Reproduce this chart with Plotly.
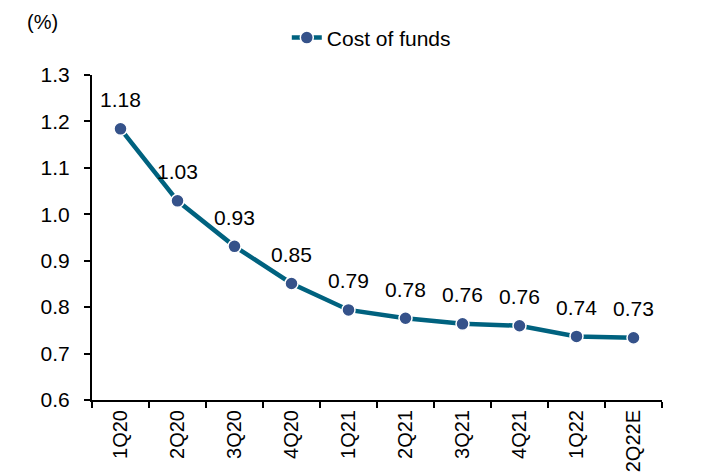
import plotly.graph_objects as go

categories = ["1Q20", "2Q20", "3Q20", "4Q20", "1Q21", "2Q21", "3Q21", "4Q21", "1Q22", "2Q22E"]
cost_of_funds = [1.184, 1.029, 0.931, 0.851, 0.794, 0.776, 0.764, 0.760, 0.737, 0.734]
value_labels = ["1.18", "1.03", "0.93", "0.85", "0.79", "0.78", "0.76", "0.76", "0.74", "0.73"]
y_ticks = [0.6, 0.7, 0.8, 0.9, 1.0, 1.1, 1.2, 1.3]

FONT = "Liberation Sans, Arial, sans-serif"
FS = 21

fig = go.Figure()
fig.add_trace(go.Scatter(
    x=categories, y=cost_of_funds, name="Cost of funds",
    mode="lines+markers",
    line=dict(color="#00627F", width=4.5),
    marker=dict(color="#35528A", size=13, line=dict(color="#FFFFFF", width=1.5)),
    cliponaxis=False,
))

for c, v, t in zip(categories, cost_of_funds, value_labels):
    fig.add_annotation(x=c, y=v, text=t, showarrow=False, yshift=29,
                       font=dict(family=FONT, size=FS, color="#000000"))

fig.update_layout(
    width=713, height=475,
    margin=dict(l=84, r=59, t=67, b=83, autoexpand=False),
    paper_bgcolor="white", plot_bgcolor="white",
    font=dict(family=FONT, size=FS, color="#000000"),
    showlegend=True,
    legend=dict(orientation="h", x=0.49, xanchor="center", y=1.114, yanchor="middle",
                font=dict(family=FONT, size=FS, color="#000000"),
                bgcolor="rgba(0,0,0,0)"),
    xaxis=dict(
        type="category", showline=True, linecolor="#000000", linewidth=2,
        ticks="outside", tickson="boundaries", ticklen=6, tickwidth=2, tickcolor="#000000",
        tickangle=-90, showgrid=False, zeroline=False,
        tickfont=dict(family=FONT, size=FS - 1, color="#000000"),
        range=[-0.5, 9.5],
    ),
    yaxis=dict(
        range=[0.6, 1.3], tickvals=y_ticks, tickformat=".1f",
        showline=True, linecolor="#000000", linewidth=2,
        ticks="outside", ticklen=6, tickwidth=2, tickcolor="#000000",
        ticklabelstandoff=10,
        showgrid=False, zeroline=False,
        tickfont=dict(family=FONT, size=FS, color="#000000"),
    ),
)
fig.add_annotation(text="(%)", xref="paper", yref="paper", x=-0.118, y=1.163,
                   xanchor="left", yanchor="middle", showarrow=False,
                   font=dict(family=FONT, size=FS - 1, color="#000000"))

fig.write_html("out.html")
